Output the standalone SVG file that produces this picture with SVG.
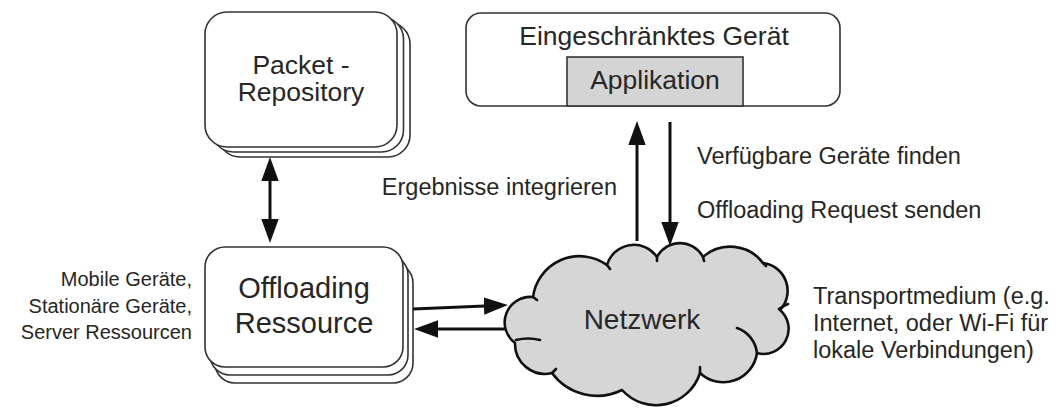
<svg xmlns="http://www.w3.org/2000/svg" width="1056" height="408" viewBox="0 0 1056 408">
<style>
  .box { fill: #ffffff; stroke: #333333; stroke-width: 1.6; }
  .app { fill: #d4d4d4; stroke: #333333; stroke-width: 1.6; }
  .cloud { fill: #d6d6d6; stroke: #111111; stroke-width: 2.6; stroke-linejoin: round; }
  .inner { fill: none; stroke: #111111; stroke-width: 2.6; stroke-linecap: round; }
  .conn { fill: none; stroke: #111111; stroke-width: 3; }
  text { font-family: "Liberation Sans", Arial, sans-serif; fill: #262626; }
  .node { font-size: 26.5px; text-anchor: middle; }
  .big { font-size: 29px; text-anchor: middle; }
  .lbl { font-size: 23.5px; }
  .small { font-size: 20px; text-anchor: end; }
</style>
<defs>
  <marker id="ah" markerUnits="userSpaceOnUse" markerWidth="24" markerHeight="18" viewBox="0 0 22 16" refX="12" refY="8" orient="auto-start-reverse">
    <path d="M0,0 L22,8 L0,16 Z" fill="#111111"/>
  </marker>
</defs>

<g id="packet-repository">
  <rect class="box" x="218" y="22" width="192" height="135" rx="22"/>
  <rect class="box" x="211.5" y="17" width="192" height="135" rx="22"/>
  <rect class="box" x="205" y="12" width="192" height="135" rx="22"/>
  <text class="node" x="301" y="74">Packet -</text>
  <text class="node" x="301" y="101">Repository</text>
</g>

<g id="eingeschraenktes-geraet">
  <rect class="box" x="466" y="13" width="374" height="93" rx="15"/>
  <text class="node" x="654" y="45">Eingeschränktes Gerät</text>
  <rect class="app" x="567" y="57" width="176" height="49"/>
  <text class="node" x="655" y="89">Applikation</text>
</g>

<g id="offloading-ressource">
  <rect class="box" x="215" y="263" width="198" height="120" rx="20"/>
  <rect class="box" x="210" y="255" width="198" height="120" rx="20"/>
  <rect class="box" x="205" y="247" width="198" height="120" rx="20"/>
  <text class="big" x="304" y="298">Offloading</text>
  <text class="big" x="304" y="333">Ressource</text>
</g>

<g id="netzwerk">
  <path class="cloud" d="M515,343 A25.6,25.6 0 0 1 533,297 A47,47 0 0 1 607,265 A28,28 0 0 1 657,257 A26,26 0 0 1 703,257 A41,41 0 0 1 763,263 A28,28 0 0 1 780,310 A25,25 0 0 1 757,353 A34,34 0 0 1 700,373 A46,46 0 0 1 622,390 A56,56 0 0 1 552,373 A30,30 0 0 1 515,343 Z"/>
  <path class="inner" d="M737,328 A30,30 0 0 1 757,353 M516,340 Q528,337 540,340 M779,309 Q783,306 788,304 M607,265 l3,4 M657,257 l0,4 M703,257 l1,4 M763,263 l3,3 M700,373 l0,-6 M552,373 l4,-4 M533,297 l4,3"/>
  <text class="node" x="642" y="329" style="font-size:28px">Netzwerk</text>
</g>

<g id="connectors">
  <line class="conn" x1="270" y1="168" x2="270" y2="232" marker-start="url(#ah)" marker-end="url(#ah)"/>
  <line class="conn" x1="637" y1="241" x2="637" y2="132" marker-end="url(#ah)"/>
  <line class="conn" x1="670" y1="122" x2="670" y2="235" marker-end="url(#ah)"/>
  <line class="conn" x1="413" y1="309" x2="497" y2="305.4" marker-end="url(#ah)"/>
  <line class="conn" x1="506" y1="329" x2="425" y2="329" marker-end="url(#ah)"/>
</g>

<g id="labels">
  <text class="lbl" x="697" y="164">Verfügbare Geräte finden</text>
  <text class="lbl" x="697" y="218">Offloading Request senden</text>
  <text class="lbl" x="617" y="195" text-anchor="end">Ergebnisse integrieren</text>
  <text class="small" x="192" y="286">Mobile Geräte,</text>
  <text class="small" x="192" y="313">Stationäre Geräte,</text>
  <text class="small" x="192" y="339">Server Ressourcen</text>
  <text class="lbl" x="813" y="304">Transportmedium (e.g.</text>
  <text class="lbl" x="813" y="331">Internet, oder Wi-Fi für</text>
  <text class="lbl" x="813" y="358">lokale Verbindungen)</text>
</g>
</svg>
